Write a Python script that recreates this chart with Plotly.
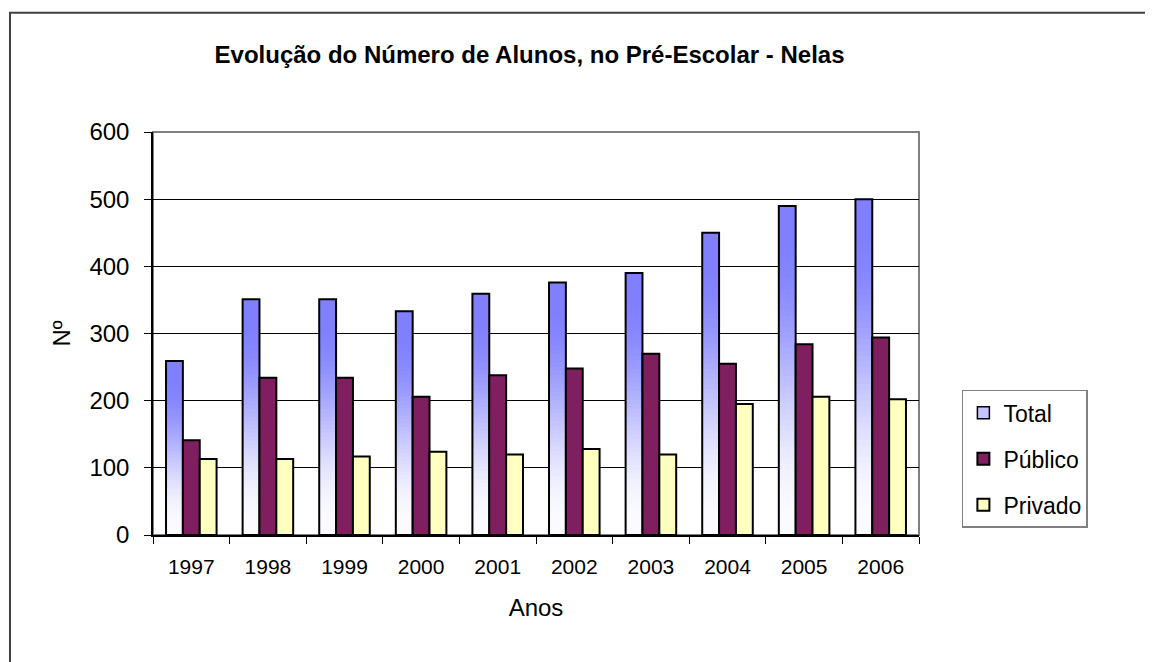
import plotly.graph_objects as go

# data
anos = ["1997", "1998", "1999", "2000", "2001", "2002", "2003", "2004", "2005", "2006"]
total = [259, 351, 351, 333, 359, 376, 390, 450, 490, 500]
publico = [141, 234, 234, 206, 238, 248, 270, 255, 284, 294]
privado = [113, 113, 117, 124, 120, 128, 120, 195, 206, 202]

FONT = "Arial, 'Liberation Sans', sans-serif"
BLUE_TOP = (128, 128, 255)
BLUE_BOTTOM = (250, 250, 255)
PUBLICO_COLOR = "#801F5F"
PRIVADO_COLOR = "#FFFFC0"

BAR_W = 0.22
N_SLICES = 60


def gradient_color(t):
    # t = 0 at the bottom of the bar, 1 at the top
    x = min(max((t - 0.05) / 0.85, 0.0), 1.0)
    f = 3 * x ** 2 - 2 * x ** 3
    r, g, b = (round(lo + (hi - lo) * f) for lo, hi in zip(BLUE_BOTTOM, BLUE_TOP))
    return f"rgb({r},{g},{b})"


fig = go.Figure()

# legend entry for Total (the gradient itself can't be shown in the legend swatch)
fig.add_trace(go.Bar(
    x=[anos[0]], y=[None], name="Total", legendgroup="total",
    marker=dict(color="#C4C4FF", line=dict(color="black", width=1.5)),
))

# Total bars: nested bars, each shorter one painted over the lower part,
# to fake the vertical gradient without seams
for k in range(N_SLICES):
    frac = (N_SLICES - k) / N_SLICES
    fig.add_trace(go.Bar(
        x=anos,
        y=[v * frac for v in total],
        width=BAR_W, offset=-1.5 * BAR_W,
        marker=dict(color=gradient_color(frac - 0.5 / N_SLICES), line=dict(width=0)),
        showlegend=False, hoverinfo="skip",
    ))

# outline of the Total bars
fig.add_trace(go.Bar(
    x=anos, y=total, name="Total", legendgroup="total", showlegend=False,
    width=BAR_W, offset=-1.5 * BAR_W,
    marker=dict(color="rgba(0,0,0,0)", line=dict(color="black", width=2)),
))

fig.add_trace(go.Bar(
    x=anos, y=publico, name="Público", legendgroup="publico",
    width=BAR_W, offset=-0.5 * BAR_W,
    marker=dict(color=PUBLICO_COLOR, line=dict(color="black", width=2)),
))

fig.add_trace(go.Bar(
    x=anos, y=privado, name="Privado", legendgroup="privado",
    width=BAR_W, offset=0.5 * BAR_W,
    marker=dict(color=PRIVADO_COLOR, line=dict(color="black", width=2)),
))

fig.update_layout(
    width=1145, height=654,
    margin=dict(l=145, r=234, t=124, b=127),
    barmode="overlay",
    paper_bgcolor="white", plot_bgcolor="white",
    font=dict(family=FONT, color="black"),
    title=dict(
        text="<b>Evolução do Número de Alunos, no Pré-Escolar - Nelas</b>",
        x=0.4555, xanchor="center", y=0.928, yanchor="middle",
        font=dict(size=24, family=FONT, color="black"),
    ),
    legend=dict(
        x=1.056, xanchor="left", y=0.36, yanchor="top",
        bordercolor="#808080", borderwidth=1.5,
        font=dict(size=23, family=FONT),
        traceorder="grouped", tracegroupgap=13,
        itemclick=False, itemdoubleclick=False,
    ),
    xaxis=dict(
        type="category", tickson="boundaries",
        ticks="outside", ticklen=7, tickcolor="black", tickwidth=1,
        showline=True, linecolor="black", linewidth=1.5,
        showgrid=False, tickfont=dict(size=21), ticklabelstandoff=12,
        title=dict(text="Anos", font=dict(size=24), standoff=22),
    ),
    yaxis=dict(
        range=[0, 600], dtick=100,
        ticks="outside", ticklen=7, tickcolor="black", tickwidth=1,
        showline=True, linecolor="black", linewidth=1.5,
        showgrid=True, gridcolor="black", gridwidth=1,
        zeroline=False, tickfont=dict(size=24), ticklabelstandoff=10,
        title=dict(text="Nº", font=dict(size=24), standoff=12),
    ),
    shapes=[
        # plot area border (grey), under the axes
        dict(type="rect", xref="paper", yref="paper", x0=0, x1=1, y0=0, y1=1,
             line=dict(color="#808080", width=2), layer="below"),
        # chart area border, running off the right and bottom edges
        dict(type="rect", xref="paper", yref="paper",
             x0=-0.1867, x1=1.32, y0=-0.34, y1=1.296,
             line=dict(color="#404040", width=2), layer="below"),
    ],
)

fig.write_html("out.html")
